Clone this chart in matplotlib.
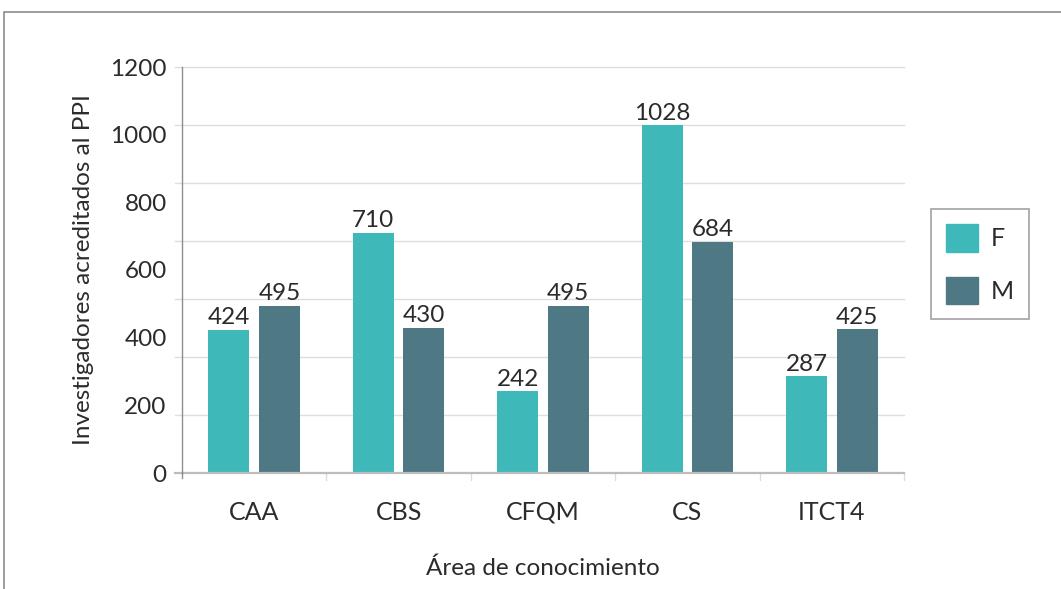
import numpy as np
import matplotlib
matplotlib.use("Agg")
import matplotlib.pyplot as plt
from matplotlib.patches import Patch, Rectangle

areas = ["CAA", "CBS", "CFQM", "CS", "ITCT4"]
fem = [424, 710, 242, 1028, 287]
masc = [495, 430, 495, 684, 425]
yticks = [0, 200, 400, 600, 800, 1000, 1200]

C_F = "#3eb8b9"
C_M = "#4e7884"
TXT = "#2b2b2b"

plt.rcParams["font.family"] = ["Lato", "DejaVu Sans"]

W, H = 1061, 589
fig = plt.figure(figsize=(W / 100, H / 100), dpi=100)
ax = fig.add_axes([182 / W, 1 - 473 / H, (904 - 182) / W, (473 - 67) / H])

x = np.arange(len(areas))
bw = 0.284
off = 0.175
b1 = ax.bar(x - off, fem, bw, color=C_F, zorder=3)
b2 = ax.bar(x + off, masc, bw, color=C_M, zorder=3)
for bars in (b1, b2):
    for r in bars:
        ax.annotate(f"{int(r.get_height())}", (r.get_x() + r.get_width() / 2, r.get_height()),
                    xytext=(0, 1), textcoords="offset points", ha="center", va="bottom",
                    fontsize=17.5, color=TXT, zorder=4)

ax.set_xlim(-0.5, len(areas) - 0.5)
ax.set_ylim(0, 1200)

# gridlines (evenly split in 7, as in the source)
for g in np.linspace(0, 1200, 8)[1:]:
    ax.axhline(g, xmin=-0.01, xmax=1, color="#dedede", lw=1, clip_on=False, zorder=1)
ax.axhline(0, xmin=-0.01, xmax=1, color="#bdbdbd", lw=1.6, clip_on=False, zorder=4)
ax.plot([-0.5, -0.5], [0, 1200], color="#8a8f96", lw=1, clip_on=False, zorder=4)
ax.plot([-0.5, -0.5], [0, -15], color="#8a8f96", lw=1, clip_on=False, zorder=4)
for b in np.arange(0.5, len(areas), 1.0):
    ax.plot([b, b], [0, -20], color="#dcdcdc", lw=1, clip_on=False, zorder=2)

for s in ax.spines.values():
    s.set_visible(False)

ax.set_yticks(yticks)
ax.set_yticklabels([str(v) for v in yticks], fontsize=17.5, color=TXT)
ax.tick_params(axis="y", length=0, pad=11)
ax.set_xticks(x)
ax.set_xticklabels(areas, fontsize=18, color=TXT)
ax.tick_params(axis="x", length=0, pad=20)

ax.set_ylabel("Investigadores acreditados al PPI", fontsize=17.5, color=TXT, labelpad=12)
ax.set_xlabel("Área de conocimiento", fontsize=17.5, color=TXT, labelpad=24)

handles = [Patch(color=C_F, label="F"), Patch(color=C_M, label="M")]
leg = ax.legend(handles=handles, loc="upper left", bbox_to_anchor=(931 / W, 1 - 209 / H),
                bbox_transform=fig.transFigure, fontsize=18, frameon=True, fancybox=False,
                handlelength=1.28, handleheight=1.32, handletextpad=0.5, labelspacing=1.0,
                borderpad=0.6, borderaxespad=0)
leg.get_frame().set_edgecolor("#8a8a8a")
leg.get_frame().set_linewidth(1.2)
for t in leg.get_texts():
    t.set_color(TXT)

fig.patches.append(Rectangle((4 / W, -0.05), 1.2, 1 - 12 / H + 0.05, transform=fig.transFigure,
                             fill=False, edgecolor="#8c8c8c", lw=1.2))

fig.savefig("out.png", dpi=100)
